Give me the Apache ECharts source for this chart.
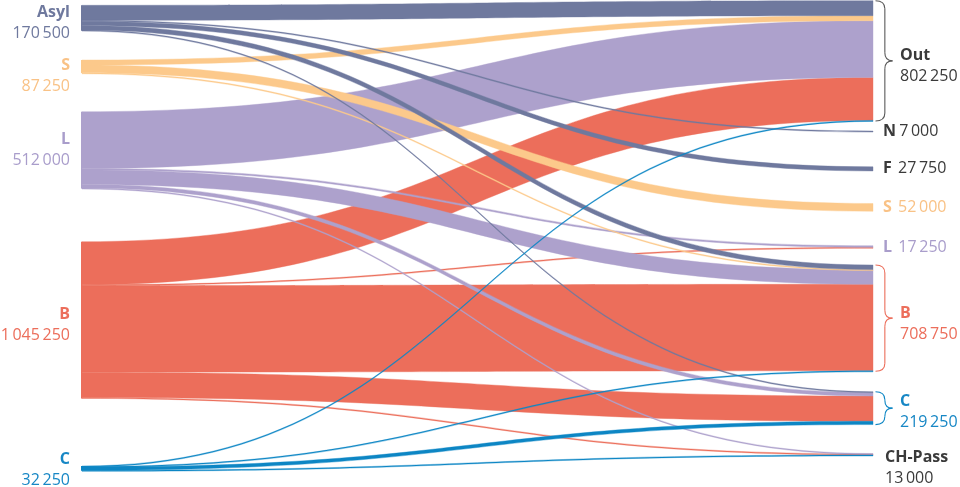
<!DOCTYPE html>
<html>
<head>
<meta charset="utf-8">
<script src="https://cdn.jsdelivr.net/npm/echarts@6/dist/echarts.min.js"></script>
<style>
html,body{margin:0;padding:0;background:#ffffff;}
#chart{width:960px;height:487px;}
</style>
</head>
<body>
<div id="chart"></div>
<script>
// ---------- data ----------
const sourceNames  = ['Asyl', 'S', 'L', 'B', 'C'];
const sourceTotals = [170500, 87250, 512000, 1045250, 32250];
const targetNames  = ['Out', 'N', 'F', 'S', 'L', 'B', 'C', 'CH-Pass'];
const targetTotals = [802250, 7000, 27750, 52000, 17250, 708750, 219250, 13000];
// flows of each source, in target order (Out, N, F, S, L, B, C, CH-Pass)
const flowsAsyl = [100000, 7000, 27750, 0, 0, 30750, 5000, 0];
const flowsS    = [33500, 0, 0, 52000, 0, 1750, 0, 0];
const flowsL    = [378000, 0, 0, 0, 11000, 96000, 24000, 3000];
const flowsB    = [286750, 0, 0, 0, 6250, 577250, 168250, 6750];
const flowsC    = [4000, 0, 0, 0, 0, 3000, 22000, 3250];

// ---------- layout & style ----------
const FONT = 'Open Sans';
const DARK = '#3a3a3a';
const COLORS = { Asyl: '#6f799e', S: '#fcc98b', L: '#ada1cc', B: '#ec6e5b', C: '#0d86c4' };
const TEXTCOL = { Asyl: '#6f799e', S: '#f9c286', L: '#a99dcb', B: '#ec6e5b', C: '#1787c5' };
const CHART_H = 487;
const NODE_GAP = 30;
const SERIES_LEFT = 81, SERIES_RIGHT = 86;
// node tops (px within the sankey box) — a layout setting
const leftTop  = [5.3, 60, 111.7, 241.7, 466];
const rightTop = [0.7, 131, 166.8, 203.5, 245.7, 265, 391.7, 453.5];
const leftLabelShift  = [5, 9, 0, 5, 2];
const rightLabelStyle = [
  { two: true,  dist: 26, shift: 5,  col: DARK },
  { two: false, dist: 9,  shift: 0,  col: DARK },
  { two: false, dist: 9,  shift: 0,  col: DARK },
  { two: false, dist: 9,  shift: 0,  col: TEXTCOL.S },
  { two: false, dist: 9,  shift: 0,  col: TEXTCOL.L },
  { two: true,  dist: 26, shift: 6,  col: TEXTCOL.B },
  { two: true,  dist: 26, shift: 4,  col: TEXTCOL.C },
  { two: true,  dist: 11, shift: 13, col: DARK }
];

function fmt(v) { return String(v).replace(/\B(?=(\d{3})+(?!\d))/g, '\u2009'); }
function rich(col) {
  return {
    n: { fontFamily: FONT, fontSize: 16, fontWeight: 'bold', color: col, lineHeight: 21 },
    v: { fontFamily: FONT, fontSize: 16, fontWeight: 'normal', color: col, lineHeight: 21 }
  };
}

const nodes = [];
sourceNames.forEach(function (nm, i) {
  nodes.push({
    name: 'src-' + nm,
    localY: leftTop[i] / CHART_H,
    itemStyle: { color: COLORS[nm], borderWidth: 0 },
    label: {
      show: true, position: 'left', distance: 11, offset: [0, leftLabelShift[i]],
      align: 'right',
      formatter: '{n|' + nm + '}\n{v|' + fmt(sourceTotals[i]) + '}',
      rich: rich(TEXTCOL[nm])
    }
  });
});
targetNames.forEach(function (nm, i) {
  const st = rightLabelStyle[i];
  const txt = st.two
    ? '{n|' + nm + '}\n{v|' + fmt(targetTotals[i]) + '}'
    : '{n|' + nm + '}' + (nm === 'N' ? ' ' : '  ') + '{v|' + fmt(targetTotals[i]) + '}';
  nodes.push({
    name: 'tgt-' + nm,
    localY: rightTop[i] / CHART_H,
    itemStyle: { color: 'rgba(0,0,0,0)', borderWidth: 0 },
    label: {
      show: true, position: 'right', distance: st.dist, offset: [0, st.shift],
      align: 'left',
      formatter: txt,
      rich: rich(st.col)
    }
  });
});

// links, drawn in this order (later on top)
const flowTable = { Asyl: flowsAsyl, S: flowsS, L: flowsL, B: flowsB, C: flowsC };
const drawOrder = ['B', 'L', 'S', 'Asyl', 'C'];
const links = [];
drawOrder.forEach(function (src) {
  flowTable[src].forEach(function (v, j) {
    if (v > 0) {
      links.push({
        source: 'src-' + src,
        target: 'tgt-' + targetNames[j],
        value: v,
        lineStyle: { color: COLORS[src], opacity: 1, borderColor: COLORS[src], borderWidth: 0.4 }
      });
    }
  });
});

const chart = echarts.init(document.getElementById('chart'), null, { renderer: 'canvas' });
const option = {
  animation: false,
  backgroundColor: '#ffffff',
  textStyle: { fontFamily: FONT },
  series: [{
    type: 'sankey',
    left: SERIES_LEFT, right: SERIES_RIGHT, top: 0, bottom: 0,
    nodeWidth: 1,
    nodeGap: NODE_GAP,
    layoutIterations: 0,
    draggable: false,
    silent: true,
    emphasis: { disabled: true },
    lineStyle: { curveness: 0.5, opacity: 1 },
    data: nodes,
    links: links
  }]
};
chart.setOption(option);

// ---------- braces, placed from the sankey layout ----------
(function drawBraces() {
  const total = targetTotals.reduce(function (a, b) { return a + b; }, 0);
  let ky = (CHART_H - (targetNames.length - 1) * NODE_GAP) / total;
  try {
    const sm = chart.getModel().getSeriesByIndex(0);
    const g = sm.getGraph();
    const lay = g.getNodeByIndex(sourceNames.length).getLayout();
    if (lay && lay.dy && lay.value) ky = lay.dy / lay.value;
  } catch (e) {}
  const x0 = chart.getWidth() - SERIES_RIGHT + 1.5;
  const w = 17;
  const braceFor = [['Out', '#5a5a5a'], ['B', COLORS.B], ['C', COLORS.C]];
  const elements = [];
  braceFor.forEach(function (b) {
    const j = targetNames.indexOf(b[0]);
    const y0 = rightTop[j];
    const y1 = y0 + targetTotals[j] * ky;
    const ym = (y0 + y1) / 2;
    const r = Math.min(8, (y1 - y0) / 4);
    const xm = x0 + w * 0.55, xt = x0 + w;
    const st = { fill: 'none', stroke: b[1], lineWidth: 1.1 };
    const curve = function (x1, y1_, cx, cy, x2, y2) {
      elements.push({ type: 'bezierCurve', silent: true,
        shape: { x1: x1, y1: y1_, x2: x2, y2: y2, cpx1: cx, cpy1: cy }, style: st });
    };
    const seg = function (x1, y1_, x2, y2) {
      elements.push({ type: 'line', silent: true,
        shape: { x1: x1, y1: y1_, x2: x2, y2: y2 }, style: st });
    };
    curve(x0, y0, xm, y0, xm, y0 + r);
    seg(xm, y0 + r, xm, ym - r);
    curve(xm, ym - r, xm, ym, xt, ym);
    curve(xt, ym, xm, ym, xm, ym + r);
    seg(xm, ym + r, xm, y1 - r);
    curve(xm, y1 - r, xm, y1, x0, y1);
  });
  chart.setOption({ graphic: elements });
})();
</script>
</body>
</html>
